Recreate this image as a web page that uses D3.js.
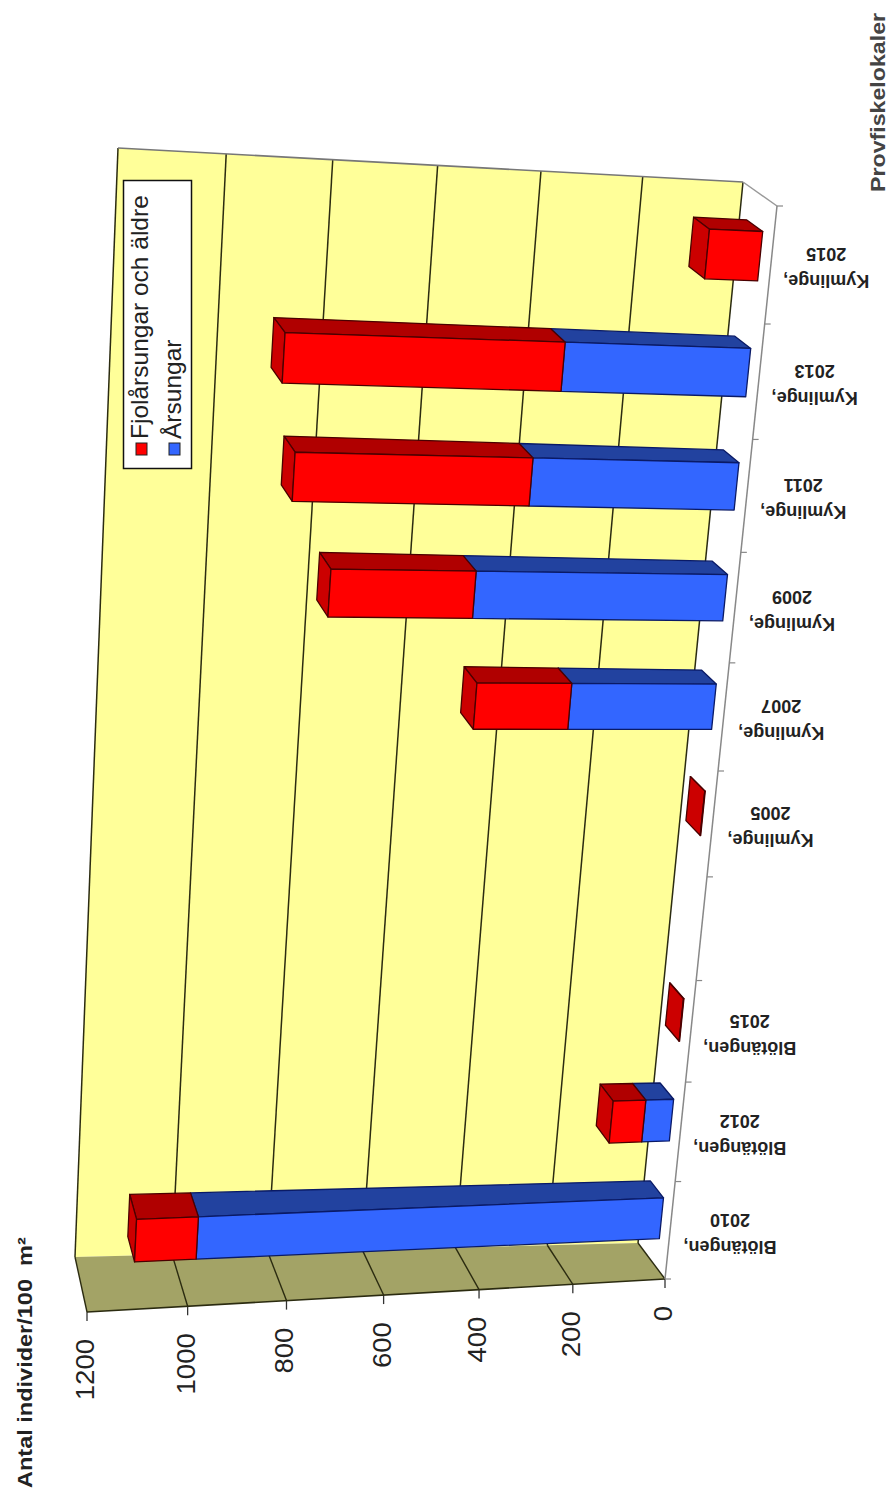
<!DOCTYPE html>
<html><head><meta charset="utf-8">
<script src="https://cdn.jsdelivr.net/npm/d3@7"></script>
<style>html,body{margin:0;background:#fff}svg{display:block}text{font-family:"Liberation Sans",Arial,sans-serif}</style>
</head><body><svg id="c" width="894" height="1499"></svg>
<script>
const categories=[["Blötängen,","2010"],["Blötängen,","2012"],["Blötängen,","2015"],["",""],["Kymlinge,","2005"],["Kymlinge,","2007"],["Kymlinge,","2009"],["Kymlinge,","2011"],["Kymlinge,","2013"],["Kymlinge,","2015"]];
const arsungar=[976,60,0,0,0,297,507,413,369,0];
const fjolarsungar=[124,70,1,0,1,191,283,459,535,106];
const valueTicks=[0,200,400,600,800,1000,1200];
const axisTitle="Antal individer/100  m²";
const categoryTitle="Provfiskelokaler";
const seriesNames=["Fjolårsungar och äldre","Årsungar"];

const svg=d3.select("#c");
const W={v0c0:[665,1279],v1c0:[87,1312],v0c1:[777,206],v1c1:[137,178]};
const B={v0c0:[638,1243],v1c0:[75,1257],v0c1:[743,182],v1c1:[118,148]};
function homography(q){
  const [x0,y0]=q.v0c0,[x1,y1]=q.v1c0,[x2,y2]=q.v1c1,[x3,y3]=q.v0c1;
  const dx1=x1-x2,dx2=x3-x2,sx=x0-x1+x2-x3,dy1=y1-y2,dy2=y3-y2,sy=y0-y1+y2-y3;
  const den=dx1*dy2-dx2*dy1;
  const g=(sx*dy2-dx2*sy)/den,h=(dx1*sy-sx*dy1)/den;
  const a=x1-x0+g*x1,b=x3-x0+h*x3,d=y1-y0+g*y1,e=y3-y0+h*y3;
  return (u,w)=>{const t=g*u+h*w+1;return [(a*u+b*w+x0)/t,(d*u+e*w+y0)/t];};
}
const HF=homography(W),HB=homography(B);
const vScale=d3.scaleLinear().domain([0,1200]).range([0,1]);
const cScale=d3.scaleLinear().domain([0,categories.length]).range([0,1]);
const P=(v,c,d)=>{const u=vScale(v),w=cScale(c),a=HF(u,w),b=HB(u,w);return [a[0]+(b[0]-a[0])*d,a[1]+(b[1]-a[1])*d];};
const line=d3.line().curve(d3.curveLinearClosed);
const poly=(pts,fill,stroke,sw=1.3)=>svg.append("path").attr("d",line(pts)).attr("fill",fill).attr("stroke",stroke).attr("stroke-width",sw).attr("stroke-linejoin","round");
const seg=(a,b,stroke,sw=1.2)=>svg.append("line").attr("x1",a[0]).attr("y1",a[1]).attr("x2",b[0]).attr("y2",b[1]).attr("stroke",stroke).attr("stroke-width",sw);
const nC=categories.length;
// wall and floors
poly([P(0,0,1),P(1200,0,1),P(1200,nC,1),P(0,nC,1)],"#FFFF99","none");
poly([P(0,0,0),P(1200,0,0),P(1200,0,1),P(0,0,1)],"#A3A366","none");
poly([P(0,0,0),P(0,0,1),P(0,nC,1),P(0,nC,0)],"#FFFFFF","none");
valueTicks.forEach(v=>{
  seg(P(v,0,1),P(v,nC,1),"#2b2b10",1.5);
  seg(P(v,0,0),P(v,0,1),"#2b2b10",1.4);
  const p=P(v,0,0);
  seg(p,[p[0],p[1]+9],"#333",1.3);
  svg.append("text").attr("transform",`translate(${p[0]+7},${p[1]+27}) rotate(-90) scale(1.08,1)`).attr("text-anchor","end").attr("font-size",25.5).attr("fill","#222").text(v);
});
seg(P(0,0,0),P(1200,0,0),"#2b2b10",1.6);
seg(P(1200,nC,1),P(0,nC,1),"#777",1.6);
seg(P(0,nC,1),P(0,nC,0),"#999",1.5);
seg(P(0,nC,0),P(0,0,0),"#888",1.5);
d3.range(0,nC+1).forEach(i=>{const p=P(0,i,0);seg(p,[p[0]+6,p[1]],"#888",1.2);});
// bars
const c1=0.30,c2=0.72,d1=0.32,d2=0.80;
const stack=d3.stack().keys(["a","f"])(categories.map((_,i)=>({a:arsungar[i],f:fjolarsungar[i]})));
const col=[{front:"#3366FF",top:"#22429F",end:"#22429F",edge:"#0a1a66"},{front:"#FF0000",top:"#B00000",end:"#CC0000",edge:"#4a0000"}];
categories.forEach((_,i)=>{
  const total=arsungar[i]+fjolarsungar[i];
  if(!total)return;
  stack.forEach((s,k)=>{
    const [lo,hi]=s[i];
    if(hi===lo)return;
    const c=col[k];
    poly([P(lo,i+c2,d1),P(hi,i+c2,d1),P(hi,i+c2,d2),P(lo,i+c2,d2)],c.top,c.edge);
    if(hi===total)poly([P(hi,i+c1,d1),P(hi,i+c2,d1),P(hi,i+c2,d2),P(hi,i+c1,d2)],c.end,c.edge);
    poly([P(lo,i+c1,d1),P(hi,i+c1,d1),P(hi,i+c2,d1),P(lo,i+c2,d1)],c.front,c.edge);
  });
});
// category labels
categories.forEach((t,i)=>{
  if(!t[0])return;
  const p=P(0,i+.5,0);
  const x=p[0]+60-i*0.5,y=p[1]+2;
  const g=svg.append("g").attr("transform",`translate(${x},${y}) rotate(180)`);
  g.append("text").attr("text-anchor","middle").attr("y",-8).attr("font-size",18).attr("font-weight","bold").attr("fill","#222").text(t[0]);
  g.append("text").attr("text-anchor","middle").attr("y",19).attr("font-size",18).attr("font-weight","bold").attr("fill","#222").text(t[1]);
});
// titles
svg.append("text").attr("transform","translate(32,1488) rotate(-90) scale(1.12,1)").attr("font-size",21).attr("font-weight","bold").attr("fill","#222").style("white-space","pre").text(axisTitle);
svg.append("text").attr("transform","translate(885,192) rotate(-90) scale(1.16,1)").attr("font-size",20).attr("font-weight","bold").attr("fill","#444").text(categoryTitle);
// legend
const lg=svg.append("g");
lg.append("rect").attr("x",123.5).attr("y",180.5).attr("width",68).attr("height",288).attr("fill","#fff").attr("stroke","#111").attr("stroke-width",1.5);
[["#FF0000",136,seriesNames[0],148],["#3366FF",169,seriesNames[1],181]].forEach(([f,x,t,tx])=>{
  lg.append("rect").attr("x",x).attr("y",443).attr("width",11).attr("height",12).attr("fill",f).attr("stroke","#222").attr("stroke-width",1);
  lg.append("text").attr("transform",`translate(${tx},439) rotate(-90)`).attr("font-size",24.5).attr("fill","#222").text(t);
});
</script></body></html>
